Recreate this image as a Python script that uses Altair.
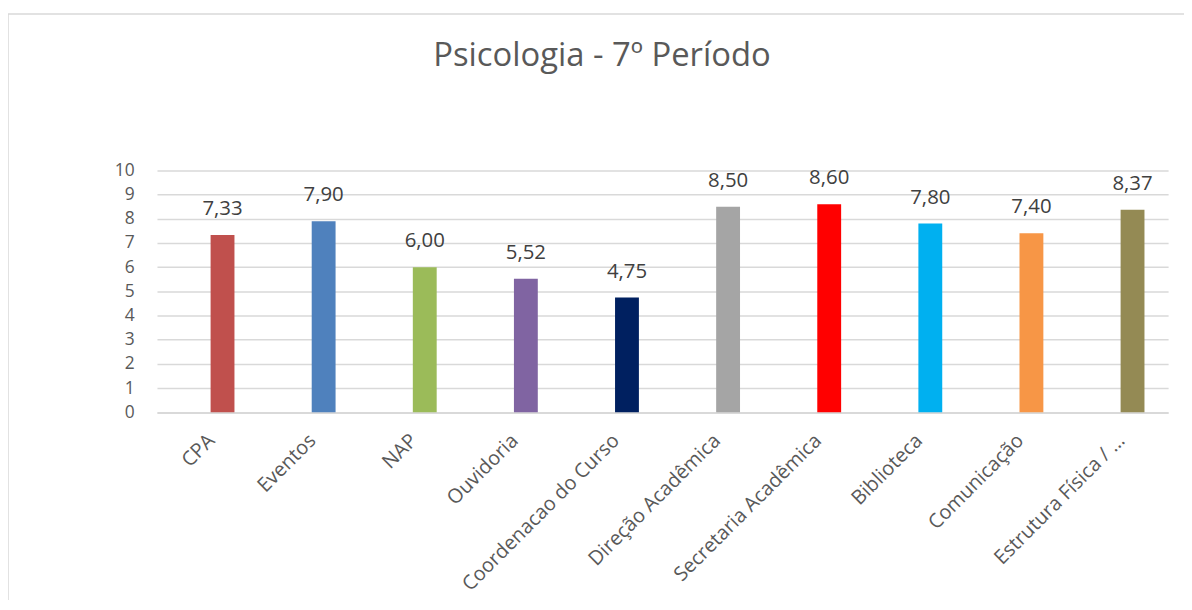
import altair as alt
import pandas as pd

categories = ["CPA", "Eventos", "NAP", "Ouvidoria", "Coordenacao do Curso",
              "Direção Acadêmica", "Secretaria Acadêmica", "Biblioteca",
              "Comunicação", "Estrutura Física / …"]
values = [7.33, 7.90, 6.00, 5.52, 4.75, 8.50, 8.60, 7.80, 7.40, 8.37]
colors = ["#C0504D", "#4F81BD", "#9BBB59", "#8064A2", "#002060",
          "#A5A5A5", "#FF0000", "#00B0F0", "#F79646", "#948A54"]
title_text = "Psicologia - 7º Período"

df = pd.DataFrame({"cat": categories, "val": values})

FONT = "Open Sans"
GREY = "#595959"
W, H = 1018, 243.5

x = alt.X("cat:N", sort=categories, title=None,
          scale=alt.Scale(paddingInner=0.764, paddingOuter=0.382, align=0.694),
          axis=alt.Axis(labelAngle=-45, labelFont=FONT, labelFontSize=20,
                        labelColor=GREY, labelPadding=18, labelOffset=-18,
                        ticks=False, domainColor="#D9D9D9", domainWidth=1.5,
                        labelLimit=400))
y = alt.Y("val:Q", title=None,
          scale=alt.Scale(domain=[0, 10], nice=False),
          axis=alt.Axis(values=list(range(0, 11)), labelFont=FONT,
                        labelFontSize=17.5, labelColor=GREY, labelPadding=23,
                        ticks=False, domain=False, gridColor="#D9D9D9",
                        gridWidth=1.5))

base = alt.Chart(df)

bars = base.mark_bar().encode(
    x=x, y=y,
    color=alt.Color("cat:N", sort=categories, legend=None,
                    scale=alt.Scale(domain=categories, range=colors)),
)

labels = base.transform_calculate(
    lab="replace(format(datum.val, '.2f'), '.', ',')"
).mark_text(font=FONT, fontSize=20.5, color="#404040", baseline="alphabetic",
            dy=-20).encode(x=x, y=y, text="lab:N")

title = alt.Chart(pd.DataFrame({"t": [title_text]})).mark_text(
    font=FONT, fontSize=33, color=GREY, baseline="alphabetic", align="center"
).encode(x=alt.value(448), y=alt.value(-105), text="t:N")

border = alt.Chart(pd.DataFrame({"t": [0]})).mark_rect(
    fill=None, stroke="#D9D9D9", strokeWidth=1.5
).encode(x=alt.value(-150), y=alt.value(-157.5), x2=alt.value(1200),
         y2=alt.value(800))

chart = alt.layer(border, bars, labels, title).properties(
    width=W, height=H,
    autosize=alt.AutoSizeParams(type="none"),
    padding={"left": 150, "top": 161.5, "right": 16, "bottom": 187},
).configure_view(stroke=None)

chart.save("out.html", embed_options={"renderer": "svg", "actions": False})
